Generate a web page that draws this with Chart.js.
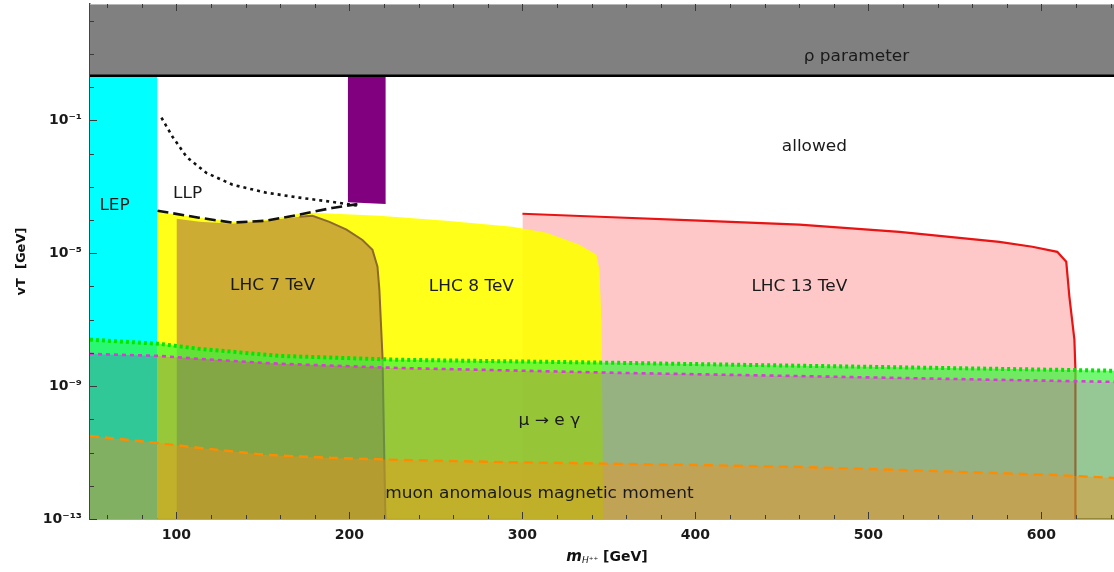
<!DOCTYPE html>
<html><head><meta charset="utf-8">
<script src="https://cdn.jsdelivr.net/npm/chart.js@4.4.1/dist/chart.umd.min.js"></script>
<style>html,body{margin:0;padding:0;background:#fff;overflow:hidden}</style>
</head><body>
<canvas id="c" width="1114" height="572"></canvas>
<script>
// ---- axis ranges & ticks ----
const X_MIN = 50, X_MAX = 642, Y_MIN = 1e-13, Y_MAX = 316;
const xMajorTicks = [100, 200, 300, 400, 500, 600];
const yLabelTicks = [1e-1, 1e-5, 1e-9, 1e-13];
const yTickLabels = ['10⁻¹', '10⁻⁵', '10⁻⁹', '10⁻¹³'];

// ---- regions (m_H [GeV], vT [GeV]) ----
const rhoX = [50, 642];            const rhoY = [2.2, 2.2];
const lepX = [50, 89];             const lepY = [2.2, 2.2];
const purpleX = [199, 221];        const purpleY = [3.4e-4, 3.0e-4];
const lhc7X = [100, 100, 113.3, 132.4, 152, 171.1, 178.6, 188.4, 198.3, 207.5, 213.3, 216.2, 217.3, 219.1, 220.8];
const lhc7Y = [1e-13, 1.09e-4, 8.8e-5, 7.7e-5, 9.5e-5, 1.25e-4, 1.34e-4, 8.8e-5, 5.1e-5, 2.5e-5, 1.26e-5, 3.9e-6, 7.9e-7, 7.6e-9, 1e-13];
const lhc8X = [89, 89, 113.3, 132.4, 152, 171.1, 178.6, 217.3, 256.1, 294.2, 313.9, 333, 342.8, 344.5, 345.7, 346.8];
const lhc8Y = [1e-13, 1.77e-4, 1.16e-4, 8.8e-5, 1.01e-4, 1.54e-4, 1.65e-4, 1.34e-4, 9.5e-5, 6.2e-5, 4.1e-5, 1.8e-5, 9.0e-6, 3.2e-6, 8.0e-8, 1e-13];
const lhc13X = [300, 300, 344.5, 402.3, 460.1, 517.9, 575.7, 594.8, 609.2, 614.4, 616.2, 619.1, 619.7, 619.7];
const lhc13Y = [1e-13, 1.54e-4, 1.25e-4, 9.5e-5, 7.2e-5, 4.4e-5, 2.2e-5, 1.56e-5, 1.1e-5, 5.5e-6, 4.9e-7, 2.5e-8, 3.1e-9, 1e-13];
const llpDotX = [91.3, 97.7, 105.8, 117.3, 132.4, 152, 171, 190, 204.6];
const llpDotY = [0.12, 0.032, 7.9e-3, 2.6e-3, 1.15e-3, 6.6e-4, 4.7e-4, 3.5e-4, 2.7e-4];
const llpDashX = [89, 113, 132.4, 152, 171, 190, 204.6];
const llpDashY = [1.9e-4, 1.17e-4, 8.3e-5, 9.5e-5, 1.45e-4, 2.3e-4, 3.0e-4];
const mueX = [50, 90.2, 113.3, 159.5, 228.9, 356.1, 460.1, 575.7, 642];
const mueY = [2.5e-8, 1.87e-8, 1.32e-8, 8.1e-9, 6.2e-9, 5.0e-9, 4.1e-9, 3.3e-9, 2.9e-9];
const mueInnerY = [9.3e-9, 8.1e-9, 6.6e-9, 4.7e-9, 3.5e-9, 2.5e-9, 2.0e-9, 1.54e-9, 1.34e-9];
const gm2X = [50, 89, 113.3, 152, 190.2, 228.9, 286.7, 402.3, 460.1, 517.9, 575.7, 609.2, 642];
const gm2Y = [3.16e-11, 1.94e-11, 1.38e-11, 8.5e-12, 6.9e-12, 6.0e-12, 5.2e-12, 4.2e-12, 3.7e-12, 3.0e-12, 2.4e-12, 2.1e-12, 1.72e-12];

// ---- region labels (data coordinates) ----
const labelText = ['ρ parameter', 'allowed', 'LEP', 'LLP', 'LHC 7 TeV', 'LHC 8 TeV', 'LHC 13 TeV', 'μ → e γ', 'muon anomalous magnetic moment'];
const labelX = [493.1, 468.8, 64.2, 106.4, 155.5, 270.5, 460.1, 315.6, 309.8];
const labelY = [8.2, 0.016, 2.7e-4, 6.2e-4, 1.04e-6, 9.7e-7, 9.7e-7, 9.0e-11, 5.7e-13];

function pts(xs, ys) { return xs.map((x, i) => ({ x: x, y: ys[i] })); }
const NONE = 'rgba(0,0,0,0)';

const datasets = [
  { data: pts(lhc13X, lhc13Y), fill: 'start', backgroundColor: 'rgb(255,200,200)', borderWidth: 0, borderColor: NONE },
  { data: pts(lhc13X.slice(1), lhc13Y.slice(1)), fill: false, borderColor: 'rgb(232,20,20)', borderWidth: 2.2 },
  { data: pts(lhc8X, lhc8Y), fill: 'start', backgroundColor: 'rgba(255,255,0,0.9)', borderWidth: 0, borderColor: NONE },
  { data: pts(lhc7X, lhc7Y), fill: 'start', backgroundColor: 'rgb(205,172,52)', borderWidth: 0, borderColor: NONE },
  { data: pts(lhc7X.slice(5), lhc7Y.slice(5)), fill: false, borderColor: 'rgb(140,105,45)', borderWidth: 2 },
  { data: pts(lepX, lepY), fill: 'start', backgroundColor: 'rgb(0,255,255)', borderWidth: 0, borderColor: NONE },
  { data: pts(purpleX, purpleY), fill: 'end', backgroundColor: 'rgb(128,0,128)', borderWidth: 0, borderColor: NONE },
  { data: pts(mueX, mueY), fill: '+1', backgroundColor: 'rgba(60,245,60,0.72)', borderColor: 'rgb(0,232,0)', borderWidth: 4, borderDash: [3, 3] },
  { data: pts(mueX, mueInnerY), fill: 'start', backgroundColor: 'rgba(80,163,80,0.6)', borderColor: 'rgb(215,60,215)', borderWidth: 2.6, borderDash: [4, 4] },
  { data: pts(gm2X, gm2Y), fill: 'start', backgroundColor: 'rgba(255,140,20,0.4)', borderColor: 'rgb(255,140,0)', borderWidth: 2.4, borderDash: [9, 6] },
  { data: pts(llpDotX, llpDotY), fill: false, borderColor: '#111', borderWidth: 2.6, borderDash: [3, 4] },
  { data: pts(llpDashX, llpDashY), fill: false, borderColor: '#111', borderWidth: 2.6, borderDash: [11, 5] },
  { data: pts(rhoX, rhoY), fill: 'end', backgroundColor: 'rgb(128,128,128)', borderColor: '#000', borderWidth: 2.5 }
];
datasets.forEach((d, i) => { d.order = datasets.length - i; d.pointRadius = 0; d.showLine = true; d.tension = 0; });

const decades = [];
for (let k = -13; k <= 2; k++) decades.push(Math.pow(10, k));
const xMinor = [];
for (let v = 60; v <= 640; v += 20) xMinor.push(v);

const decor = {
  id: 'decor',
  afterDatasetsDraw(chart) {
    const ctx = chart.ctx, xs = chart.scales.x, ys = chart.scales.y;
    ctx.save();
    ctx.fillStyle = '#1a1a1a';
    ctx.font = '15px "DejaVu Sans"';
    ctx.textAlign = 'center'; ctx.textBaseline = 'middle';
    labelText.forEach((t, i) => {
      ctx.save();
      ctx.translate(xs.getPixelForValue(labelX[i]), ys.getPixelForValue(labelY[i]));
      ctx.scale(1.13, 1);
      ctx.fillText(t, 0, 0);
      ctx.restore();
    });
    ctx.restore();
  },
  afterDraw(chart) {
    const ctx = chart.ctx, xs = chart.scales.x, ys = chart.scales.y, a = chart.chartArea;
    ctx.save();
    ctx.strokeStyle = '#b8b8b8'; ctx.lineWidth = 1.2;
    ctx.beginPath(); ctx.moveTo(a.left, a.top + 0.5); ctx.lineTo(a.right, a.top + 0.5); ctx.stroke();
    ctx.strokeStyle = '#3a3a3a'; ctx.lineWidth = 1;
    xMinor.forEach(v => {
      const px = Math.round(xs.getPixelForValue(v)) + 0.5;
      const L = (v % 100 === 0) ? 7 : 4;
      ctx.beginPath(); ctx.moveTo(px, a.bottom); ctx.lineTo(px, a.bottom - L); ctx.stroke();
      ctx.beginPath(); ctx.moveTo(px, a.top); ctx.lineTo(px, a.top + L); ctx.stroke();
    });
    decades.forEach(v => {
      const py = Math.round(ys.getPixelForValue(v)) + 0.5;
      const lab = yLabelTicks.some(t => Math.abs(Math.log10(t) - Math.log10(v)) < 0.01);
      const L = lab ? 7 : 4;
      ctx.beginPath(); ctx.moveTo(a.left, py); ctx.lineTo(a.left + L, py); ctx.stroke();
    });
    const f1 = 'italic bold 15px "DejaVu Sans"', f2 = 'italic 9px "DejaVu Sans"', f3 = 'bold 14px "DejaVu Sans"';
    const p1 = 'm', p2 = 'H⁺⁺', p3 = ' [GeV]';
    ctx.font = f1; const w1 = ctx.measureText(p1).width;
    ctx.font = f2; const w2 = ctx.measureText(p2).width;
    ctx.font = f3; const w3 = ctx.measureText(p3).width;
    let x0 = (a.left + a.right) / 2 + 5 - (w1 + w2 + w3) / 2;
    const base = 561;
    ctx.fillStyle = '#111'; ctx.textAlign = 'left'; ctx.textBaseline = 'alphabetic';
    ctx.font = f1; ctx.fillText(p1, x0, base); x0 += w1;
    ctx.font = f2; ctx.fillText(p2, x0, base + 2); x0 += w2;
    ctx.font = f3; ctx.fillText(p3, x0, base);
    ctx.restore();
  }
};

new Chart(document.getElementById('c'), {
  type: 'scatter',
  data: { datasets: datasets },
  options: {
    responsive: false, animation: false, devicePixelRatio: 1,
    layout: { padding: { top: 4, right: 0, left: 0, bottom: 0 } },
    plugins: { legend: { display: false }, tooltip: { enabled: false } },
    scales: {
      x: {
        type: 'linear', min: X_MIN, max: X_MAX,
        afterBuildTicks: s => { s.ticks = xMajorTicks.map(v => ({ value: v })); },
        afterFit: s => { s.height = 53; s.paddingLeft = 0; s.paddingRight = 0; },
        grid: { display: false, drawTicks: false },
        border: { display: true, color: '#555', width: 1.5 },
        ticks: { autoSkip: false, maxRotation: 0, padding: 8, color: '#1a1a1a',
          font: { family: 'DejaVu Sans', weight: 'bold', size: 14 }, callback: v => String(v) }
      },
      y: {
        type: 'logarithmic', min: Y_MIN, max: Y_MAX,
        afterBuildTicks: s => { s.ticks = decades.map(v => ({ value: v })); },
        afterFit: s => { s.width = 90; s.paddingTop = 0; s.paddingBottom = 0; },
        grid: { display: false, drawTicks: false },
        border: { display: true, color: '#2f4f4f', width: 1.5 },
        title: { display: true, text: 'vT  [GeV]', color: '#111', padding: { top: 14, bottom: 0 },
          font: { family: 'DejaVu Sans', weight: 'bold', size: 13 } },
        ticks: { autoSkip: false, padding: 8, color: '#1a1a1a',
          font: { family: 'DejaVu Sans', weight: 'bold', size: 14 },
          callback: v => {
            const k = Math.round(Math.log10(v));
            const i = yLabelTicks.findIndex(t => Math.round(Math.log10(t)) === k);
            return i >= 0 ? yTickLabels[i] : '';
          } }
      }
    }
  },
  plugins: [decor]
});
</script>
</body></html>
